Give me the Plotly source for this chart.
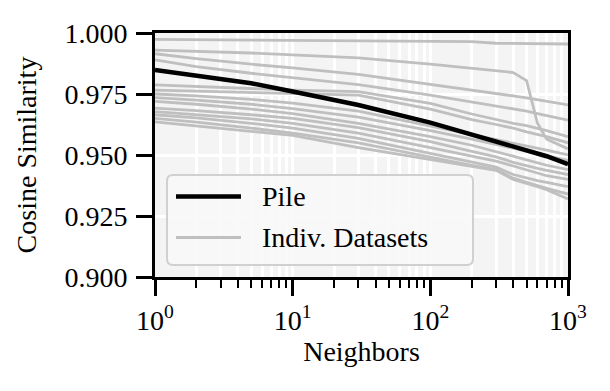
import plotly.graph_objects as go

# ---- data ----
neighbors = [1, 2, 5, 10, 30, 100, 200, 300, 400, 500, 600, 700, 1000]

pile = [0.9848, 0.9823, 0.9794, 0.9760, 0.9705, 0.9633, 0.9585, 0.9555,
        0.9535, 0.9520, 0.9505, 0.9495, 0.9462]

ds_01 = [0.9974, 0.9973, 0.9972, 0.9971, 0.9969, 0.9966, 0.9965, 0.9958, 0.9958, 0.9957, 0.9957, 0.9956, 0.9955]
ds_02 = [0.9930, 0.9925, 0.9918, 0.9910, 0.9898, 0.9872, 0.9855, 0.9845, 0.9838, 0.9805, 0.9630, 0.9565, 0.9525]
ds_03 = [0.9915, 0.9895, 0.9872, 0.9857, 0.9830, 0.9790, 0.9768, 0.9752, 0.9742, 0.9734, 0.9727, 0.9721, 0.9705]
ds_04 = [0.9890, 0.9862, 0.9835, 0.9818, 0.9788, 0.9745, 0.9717, 0.9700, 0.9690, 0.9680, 0.9670, 0.9662, 0.9643]
ds_05 = [0.9787, 0.9780, 0.9772, 0.9766, 0.9760, 0.9712, 0.9668, 0.9645, 0.9630, 0.9620, 0.9610, 0.9600, 0.9575]
ds_06 = [0.9766, 0.9762, 0.9756, 0.9752, 0.9745, 0.9688, 0.9645, 0.9625, 0.9610, 0.9595, 0.9585, 0.9575, 0.9550]
ds_07 = [0.9750, 0.9742, 0.9728, 0.9713, 0.9680, 0.9620, 0.9585, 0.9565, 0.9550, 0.9538, 0.9528, 0.9520, 0.9500]
ds_08 = [0.9735, 0.9725, 0.9708, 0.9690, 0.9655, 0.9600, 0.9565, 0.9545, 0.9528, 0.9515, 0.9505, 0.9497, 0.9478]
ds_09 = [0.9720, 0.9708, 0.9688, 0.9670, 0.9630, 0.9575, 0.9540, 0.9515, 0.9495, 0.9480, 0.9468, 0.9458, 0.9440]
ds_10 = [0.9692, 0.9682, 0.9665, 0.9650, 0.9612, 0.9555, 0.9515, 0.9492, 0.9470, 0.9455, 0.9445, 0.9437, 0.9420]
ds_11 = [0.9678, 0.9665, 0.9648, 0.9630, 0.9590, 0.9530, 0.9495, 0.9475, 0.9455, 0.9440, 0.9425, 0.9415, 0.9400]
ds_12 = [0.9665, 0.9652, 0.9630, 0.9610, 0.9568, 0.9505, 0.9470, 0.9450, 0.9420, 0.9405, 0.9395, 0.9388, 0.9370]
ds_13 = [0.9650, 0.9635, 0.9610, 0.9590, 0.9550, 0.9490, 0.9458, 0.9440, 0.9405, 0.9388, 0.9374, 0.9363, 0.9340]
ds_14 = [0.9636, 0.9620, 0.9598, 0.9580, 0.9530, 0.9480, 0.9452, 0.9437, 0.9400, 0.9385, 0.9370, 0.9358, 0.9320]

datasets = [ds_01, ds_02, ds_03, ds_04, ds_05, ds_06, ds_07,
            ds_08, ds_09, ds_10, ds_11, ds_12, ds_13, ds_14]

y_ticks = [0.900, 0.925, 0.950, 0.975, 1.000]
x_ticks = [1, 10, 100, 1000]
x_ticktext = ["10<sup>0</sup>", "10<sup>1</sup>", "10<sup>2</sup>", "10<sup>3</sup>"]
legend_labels = ["Pile", "Indiv. Datasets"]

# ---- styling ----
FONT = "Liberation Serif"
FS = 28
GRAY = "#bfbfbf"
OFF = 8                      # browser default body margin
W, H = 610 - OFF, 391 - OFF
L, T = 155 - OFF, 33 - OFF
pw, ph = 413, 244
R, B = W - L - pw, H - T - ph

fig = go.Figure()
for ds in datasets:
    fig.add_trace(go.Scatter(x=neighbors, y=ds, mode="lines",
                             line=dict(color=GRAY, width=2.8),
                             showlegend=False, hoverinfo="skip"))
fig.add_trace(go.Scatter(x=neighbors, y=pile, mode="lines",
                         line=dict(color="black", width=4.5),
                         showlegend=False))

minor_vals = [m * 10 ** e for e in range(3) for m in range(2, 10)]

fig.update_layout(
    width=W, height=H,
    margin=dict(l=L, r=R, t=T, b=B),
    paper_bgcolor="white",
    plot_bgcolor="#f4f4f4",
    font=dict(family=FONT, size=FS, color="black"),
    xaxis=dict(
        type="log", range=[0, 3], automargin=False,
        tickmode="array", tickvals=x_ticks, ticktext=x_ticktext,
        ticks="outside", ticklen=16, tickwidth=3, tickcolor="black",
        showline=True, linewidth=3, linecolor="black", mirror=True,
        showgrid=True, gridcolor="white", gridwidth=3,
        zeroline=False,
        minor=dict(tickmode="array", tickvals=minor_vals, ticks="outside",
                   ticklen=8, tickwidth=2, tickcolor="black",
                   showgrid=True, gridcolor="white", gridwidth=3),
        title=dict(text="Neighbors", font=dict(size=FS), standoff=2),
        tickfont=dict(size=FS),
    ),
    yaxis=dict(
        range=[0.9, 1.0], automargin=False,
        tickmode="array", tickvals=y_ticks, tickformat=".3f",
        ticks="outside", ticklen=16, tickwidth=3, tickcolor="black",
        ticklabelstandoff=3,
        showline=True, linewidth=3, linecolor="black", mirror=True,
        showgrid=True, gridcolor="white", gridwidth=3,
        zeroline=False,
        title=dict(text="Cosine Similarity", font=dict(size=FS), standoff=20),
        tickfont=dict(size=FS),
    ),
)

# ---- custom legend (matplotlib style box); positions in reference pixels ----
def px_x(p):
    return (p - OFF - L) / pw

def px_y(p):
    return (T + ph - (p - OFF)) / ph

x0, x1 = px_x(167), px_x(473)
y0, y1 = px_y(265), px_y(175)
rx, ry = 6 / pw, 6 / ph
path = (f"M{x0+rx},{y0} L{x1-rx},{y0} Q{x1},{y0} {x1},{y0+ry} "
        f"L{x1},{y1-ry} Q{x1},{y1} {x1-rx},{y1} L{x0+rx},{y1} "
        f"Q{x0},{y1} {x0},{y1-ry} L{x0},{y0+ry} Q{x0},{y0} {x0+rx},{y0} Z")
fig.add_shape(type="path", path=path, xref="paper", yref="paper",
              fillcolor="rgba(248,248,248,0.85)",
              line=dict(color="#d0d0d0", width=2), layer="above")

items = [(legend_labels[0], "black", 4.5, 196.5),
         (legend_labels[1], GRAY, 3, 237.5)]
for label, col, wd, py in items:
    fig.add_shape(type="line", xref="paper", yref="paper",
                  x0=px_x(176), x1=px_x(241), y0=px_y(py), y1=px_y(py),
                  line=dict(color=col, width=wd), layer="above")
    fig.add_annotation(text=label, xref="paper", yref="paper",
                       x=px_x(260), y=px_y(py), xanchor="left", yanchor="middle",
                       showarrow=False, font=dict(family=FONT, size=FS, color="black"))

fig.write_html("out.html")
